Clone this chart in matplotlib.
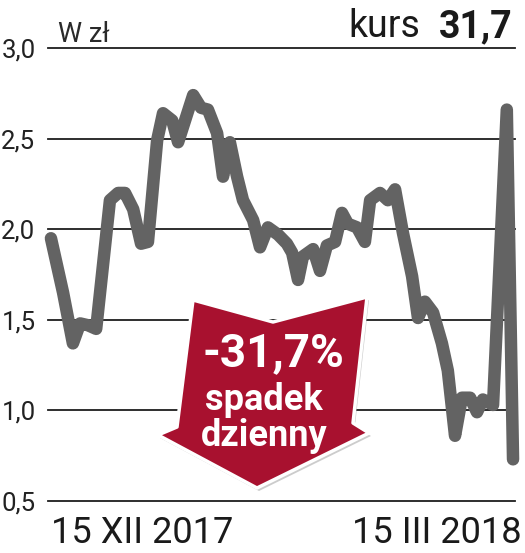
import matplotlib
matplotlib.use("Agg")
import matplotlib.pyplot as plt
from matplotlib.patches import Polygon
from matplotlib.transforms import Affine2D

# ---- data (days relative to 15 XII 2017, price in zł) ----
days = [-27.8, -24.1, -21.1, -18.9, -16.5, -14.0, -9.8, -7.3, -5.2, -2.7,
        -0.3, 1.8, 4.6, 6.4, 9.2, 11.0, 15.6, 18.0, 20.1, 22.9,
        24.7, 26.8, 29.0, 30.8, 33.9, 36.0, 38.4, 41.5, 44.2, 45.8,
        47.6, 49.1, 52.2, 54.3, 56.4, 58.9, 61.0, 62.8, 65.6, 68.0,
        69.6, 72.6, 75.0, 77.2, 79.6, 82.4, 84.2, 86.3, 88.8, 91.5,
        93.3, 95.5, 97.6, 100.1, 102.2, 104.0, 107.1, 111.3, 113.2]
price = [1.95, 1.65, 1.37, 1.48, 1.47, 1.45, 2.16, 2.20, 2.20, 2.11,
         1.92, 1.93, 2.49, 2.64, 2.60, 2.48, 2.74, 2.67, 2.66, 2.53,
         2.29, 2.48, 2.29, 2.16, 2.05, 1.90, 2.01, 1.97, 1.92, 1.87,
         1.72, 1.85, 1.89, 1.77, 1.91, 1.93, 2.09, 2.03, 2.01, 1.93,
         2.16, 2.20, 2.16, 2.22, 1.98, 1.74, 1.51, 1.60, 1.54, 1.37,
         1.22, 0.86, 1.07, 1.07, 0.99, 1.06, 1.03, 2.66, 0.73]
y_ticks = [0.5, 1.0, 1.5, 2.0, 2.5, 3.0]
y_tick_labels = ["0,5", "1,0", "1,5", "2,0", "2,5", "3,0"]
x_ticks = [0, 90]
x_tick_labels = ["15 XII 2017", "15 III 2018"]
unit_label = "W zł"
kurs_label = "kurs"
kurs_value = "31,7"
badge_lines = ["-31,7%", "spadek", "dzienny"]

W, H = 525, 553
fig = plt.figure(figsize=(W / 100, H / 100), dpi=100)
fig.patch.set_facecolor("white")

L, R, T, B = 48, 515, 48, 501
ax = fig.add_axes([L / W, 1 - B / H, (R - L) / W, (B - T) / H])
ax.set_xlim(-28.7, 113.8)
ax.set_ylim(0.5, 3.0)
for s in ax.spines.values():
    s.set_visible(False)
ax.set_facecolor("none")

for yv in y_ticks:
    ax.axhline(yv, color="#1e1e1e", lw=1.3, zorder=1, clip_on=False)

ax.plot(days, price, color="#636363", lw=9, solid_joinstyle="round",
        solid_capstyle="round", zorder=2, clip_on=False)

ax.set_yticks(y_ticks)
ax.set_yticklabels(y_tick_labels, fontsize=18.5, color="#222222",
                   family=["Roboto", "DejaVu Sans"])
ax.tick_params(axis="y", length=0, pad=9)
ax.set_xticks(x_ticks)
ax.set_xticklabels(x_tick_labels, fontsize=26, color="#1a1a1a",
                   family=["Roboto", "DejaVu Sans"])
ax.tick_params(axis="x", length=0, pad=10)

# pixel transform (origin top-left)
px = Affine2D().scale(1 / W, -1 / H).translate(0, 1) + fig.transFigure

fig.text(58, 42, unit_label, transform=px, fontsize=19.5,
         color="#2a2a2a", family=["Roboto", "DejaVu Sans"], va="baseline")
fig.text(420, 37, kurs_label, transform=px, fontsize=27, color="#1a1a1a",
         family=["Roboto", "DejaVu Sans"], va="baseline", ha="right")
fig.text(512, 37, kurs_value, transform=px, fontsize=27, fontweight="bold",
         color="#1a1a1a", family=["Roboto", "DejaVu Sans"], va="baseline",
         ha="right")

# badge arrow
pts = [(193, 300), (273, 322), (367, 297), (353, 423), (369, 433),
       (257, 488), (158, 435), (177, 427)]
shadow = Polygon([(x + 2, y + 3) for x, y in pts], closed=True,
                 transform=px, facecolor="#9a9a9a", edgecolor="none",
                 alpha=0.5, zorder=5)
fig.add_artist(shadow)
arrow = Polygon(pts, closed=True, transform=px, facecolor="#a8112f",
                edgecolor="white", lw=2.5, joinstyle="round", zorder=6)
fig.add_artist(arrow)

fig.text(273, 366, badge_lines[0], transform=px, fontsize=33,
         fontweight="bold", color="white", ha="center", va="baseline",
         family=["Roboto", "DejaVu Sans"], zorder=7)
fig.text(264, 410, badge_lines[1], transform=px, fontsize=26,
         fontweight="bold", color="white", ha="center", va="baseline",
         family=["Roboto", "DejaVu Sans"], zorder=7)
fig.text(264, 446, badge_lines[2], transform=px, fontsize=26,
         fontweight="bold", color="white", ha="center", va="baseline",
         family=["Roboto", "DejaVu Sans"], zorder=7)

fig.savefig("out.png", dpi=100)
